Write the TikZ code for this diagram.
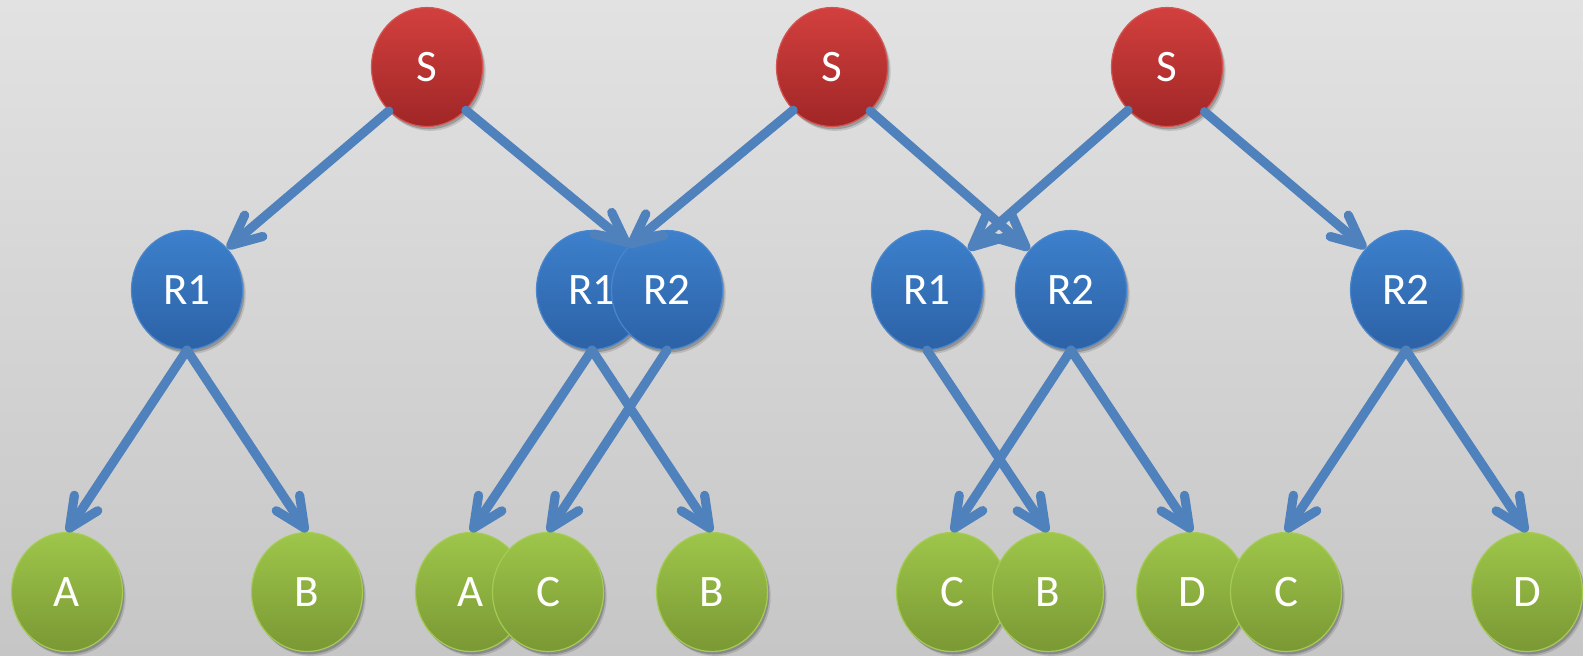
\documentclass[tikz,border=0pt]{standalone}
\usepackage{fontspec}
\setmainfont{Carlito}
\usetikzlibrary{shapes.geometric,arrows.meta,shadows}
\definecolor{bgtop}{RGB}{226,226,226}
\definecolor{bgbot}{RGB}{198,198,198}
\definecolor{redtop}{RGB}{210,64,62}
\definecolor{redbot}{RGB}{160,38,38}
\definecolor{redline}{RGB}{214,84,80}
\definecolor{bluetop}{RGB}{61,128,204}
\definecolor{bluebot}{RGB}{44,98,166}
\definecolor{blueline}{RGB}{74,134,204}
\definecolor{greentop}{RGB}{158,198,74}
\definecolor{greenbot}{RGB}{122,152,52}
\definecolor{greenline}{RGB}{164,204,84}
\definecolor{arrowc}{RGB}{79,129,189}
\begin{document}
\begin{tikzpicture}[x=0.5pt,y=-0.5pt,
  bubble/.style={ellipse, minimum width=55.5pt, minimum height=59.5pt, inner sep=0pt,
    text=white, font=\fontsize{22.5}{26}\selectfont, line width=0.6pt,
    drop shadow={shadow xshift=1.6pt, shadow yshift=-2.2pt, opacity=0.12, fill=black},
    drop shadow={shadow xshift=0.9pt, shadow yshift=-1.4pt, opacity=0.2, fill=black}},
  snode/.style={bubble, top color=redtop, bottom color=redbot, draw=redline},
  rnode/.style={bubble, top color=bluetop, bottom color=bluebot, draw=blueline},
  gnode/.style={bubble, top color=greentop, bottom color=greenbot, draw=greenline},
  link/.style={draw=arrowc, line width=4.6pt, line cap=round,
    -{Straight Barb[length=15pt,width=14pt,round]},
    preaction={draw=black, draw opacity=0.13, transform canvas={xshift=1pt,yshift=-1.6pt}}},
]
\useasboundingbox (0,0) rectangle (1583,655);
\shade[top color=bgtop, bottom color=bgbot] (0,0) rectangle (1583,655);

% top row
\node[snode] (S1) at (427,67) {S};
\node[snode] (S2) at (832,67) {S};
\node[snode] (S3) at (1167,67) {S};

% middle row
\node[rnode] (R1a) at (187,290) {R1};
\node[rnode] (R1b) at (592,290) {R1};
\node[rnode] (R2b) at (667,290) {R2};
\node[rnode] (R1c) at (927,290) {R1};
\node[rnode] (R2c) at (1071,290) {R2};
\node[rnode] (R2d) at (1406,290) {R2};

% bottom row
\node[gnode] (A1) at (67,592) {A};
\node[gnode] (B1) at (307,592) {B};
\node[gnode] (A2) at (471,592) {A};
\node[gnode] (C2) at (548,592) {C};
\node[gnode] (B2) at (712,592) {B};
\node[gnode] (C3) at (952,592) {C};
\node[gnode] (B3) at (1048,592) {B};
\node[gnode] (D3) at (1192,592) {D};
\node[gnode] (C4) at (1286,592) {C};
\node[gnode] (D4) at (1527,592) {D};

% S -> R
\draw[link] (S1.-131) -- (R1a.46);
\draw[link] (S1.-48) -- (R1b.50);
\draw[link] (S2.-132) -- (R2b.132);
\draw[link] (S2.-49) -- (R2c.136);
\draw[link] (S3.-132) -- (R1c.44);
\draw[link] (S3.-50) -- (R2d.134);

% R -> leaves
\draw[link] (R1a.south) -- (A1.north);
\draw[link] (R1a.south) -- (B1.north);
\draw[link] (R1b.south) -- (A2.north);
\draw[link] (R1b.south) -- (B2.north);
\draw[link] (R2b.south) -- (C2.north);
\draw[link] (R1c.south) -- (B3.north);
\draw[link] (R2c.south) -- (C3.north);
\draw[link] (R2c.south) -- (D3.north);
\draw[link] (R2d.south) -- (C4.north);
\draw[link] (R2d.south) -- (D4.north);
\end{tikzpicture}
\end{document}
